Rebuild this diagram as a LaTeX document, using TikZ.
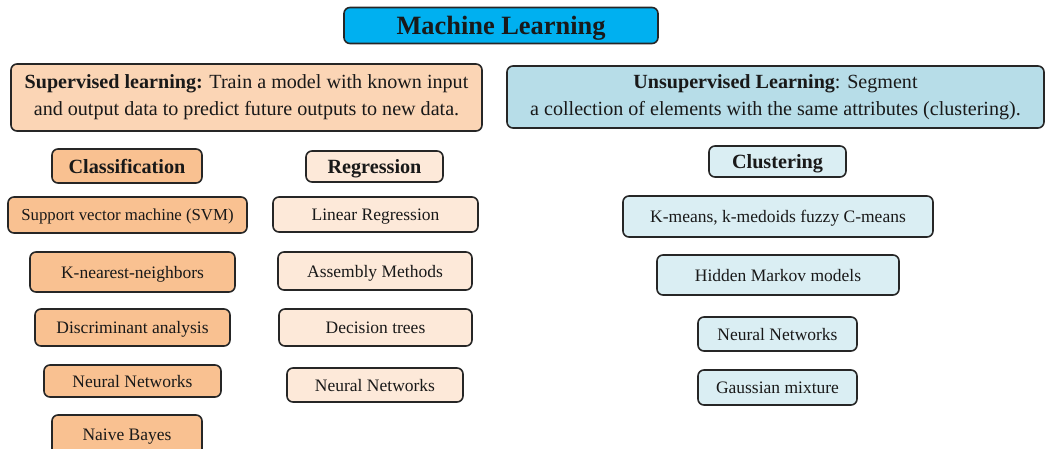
\documentclass[tikz,border=0pt]{standalone}
\usepackage{fontspec}
\setmainfont{Liberation Serif}
\begin{document}
\begin{tikzpicture}[x=1pt,y=-1pt,
  box/.style={draw=black!85,line width=1.6pt,rounded corners=6pt,align=center,
    inner sep=0pt,text=black!90},
  one/.style={box,text depth=0pt},
  titlebox/.style={one,fill=titlecol,font=\fontsize{26.4}{30}\selectfont\bfseries},
  supbox/.style={box,fill=supcol,font=\fontsize{20.1}{27}\selectfont},
  unsupbox/.style={box,fill=unsupcol,font=\fontsize{20.1}{27}\selectfont},
  headA/.style={one,fill=classcol,font=\fontsize{20.2}{23}\selectfont\bfseries},
  headB/.style={one,fill=regcol,font=\fontsize{20.2}{23}\selectfont\bfseries},
  headC/.style={one,fill=clucol,font=\fontsize{20.2}{23}\selectfont\bfseries},
  itemA/.style={one,fill=classcol,font=\fontsize{17.5}{20}\selectfont},
  itemB/.style={one,fill=regcol,font=\fontsize{17.5}{20}\selectfont},
  itemC/.style={one,fill=clucol,font=\fontsize{17.5}{20}\selectfont},
]
\definecolor{titlecol}{HTML}{00B0F0}
\definecolor{supcol}{HTML}{FBD5B5}
\definecolor{classcol}{HTML}{F9C191}
\definecolor{regcol}{HTML}{FDE9D9}
\definecolor{unsupcol}{HTML}{B7DDE8}
\definecolor{clucol}{HTML}{DAEEF3}
\useasboundingbox (0,0) rectangle (1046,449);
\begin{scope}
\clip (0,0) rectangle (1046,449);
\node[titlebox,minimum width=314pt,minimum height=36pt] (ml) at (501,25.5) {Machine Learning};
\node[supbox,minimum width=471pt,minimum height=67pt] (sup) at (246.5,97.5)
  {\textbf{Supervised learning:} Train a model with known input\\and output data to predict future outputs to new data.};
\node[unsupbox,minimum width=537pt,minimum height=62pt] (unsup) at (775.5,97)
  {\textbf{Unsupervised Learning}: Segment\\a collection of elements with the same attributes (clustering).};
\node[headA,minimum width=150pt,minimum height=34pt] (class) at (127,166) {Classification};
\node[headB,minimum width=137pt,minimum height=31pt] (regr) at (374.5,166.5) {Regression};
\node[headC,minimum width=137pt,minimum height=31pt] (clust) at (777.5,161.5) {Clustering};
\node[itemA,minimum width=239pt,minimum height=36pt,font=\fontsize{16.8}{20}\selectfont] (svm) at (127.5,215) {Support vector machine (SVM)};
\node[itemA,minimum width=205pt,minimum height=40pt] (knn) at (132.5,272) {K-nearest-neighbors};
\node[itemA,minimum width=195pt,minimum height=37pt] (disc) at (132.5,327.5) {Discriminant analysis};
\node[itemA,minimum width=177pt,minimum height=32pt] (nnc) at (132.5,381) {Neural Networks};
\node[itemA,minimum width=150pt,minimum height=40pt] (naive) at (127,435) {Naive Bayes};
\node[itemB,minimum width=205pt,minimum height=35pt] (linreg) at (375.5,214.5) {Linear Regression};
\node[itemB,minimum width=194pt,minimum height=38pt] (asm) at (375,271) {Assembly Methods};
\node[itemB,minimum width=193pt,minimum height=37pt] (dtree) at (375.5,327.5) {Decision trees};
\node[itemB,minimum width=176pt,minimum height=34pt] (nnr) at (375,385) {Neural Networks};
\node[itemC,minimum width=310pt,minimum height=41pt] (kmeans) at (778,216.5) {K-means, k-medoids fuzzy C-means};
\node[itemC,minimum width=242pt,minimum height=40pt] (hmm) at (778,275) {Hidden Markov models};
\node[itemC,minimum width=159pt,minimum height=34pt] (nnu) at (777.5,334) {Neural Networks};
\node[itemC,minimum width=159pt,minimum height=35pt] (gauss) at (777.5,387.5) {Gaussian mixture};
\end{scope}
\end{tikzpicture}
\end{document}
